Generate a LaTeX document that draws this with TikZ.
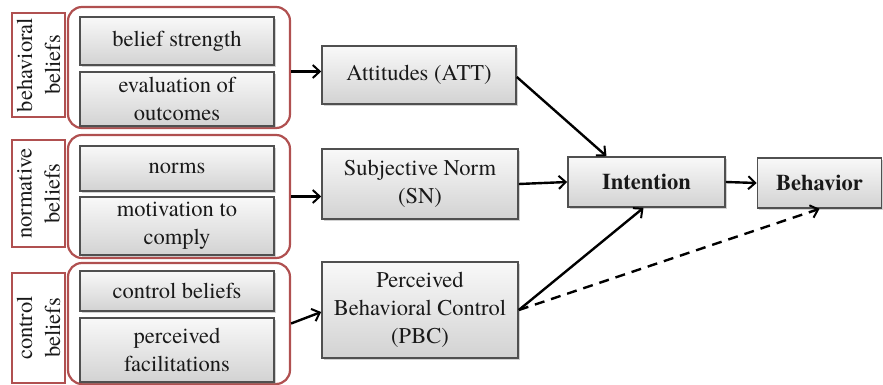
\documentclass[tikz,border=0pt]{standalone}
\usepackage{fontspec}
\setmainfont{texgyretermes}[Extension=.otf, UprightFont=*-regular, BoldFont=*-bold,
  ItalicFont=*-italic, BoldItalicFont=*-bolditalic]
\usetikzlibrary{arrows.meta,shadows,calc}
\definecolor{grpred}{RGB}{176,80,80}
\definecolor{boxline}{RGB}{80,80,80}
\definecolor{inktext}{RGB}{25,25,25}
\begin{document}
\begin{tikzpicture}[x=1pt,y=-1pt,
  txt/.style={font=\fontsize{22.5}{28}\selectfont, text=inktext, align=center},
  box/.style={txt, draw=boxline, line width=1.6pt, top color=gray!5, bottom color=gray!35,
    drop shadow={shadow xshift=1.8pt, shadow yshift=-1.8pt, opacity=0.35}, inner sep=2pt},
  grp/.style={draw=grpred, line width=2.2pt, rounded corners=14pt, inner sep=0pt},
  tag/.style={txt, draw=grpred, line width=2.2pt, rotate=90, inner sep=1pt},
  link/.style={line width=2.4pt, -{Straight Barb[length=7pt,width=13pt,line width=2pt]}},
]
\useasboundingbox[fill=white] (0,0) rectangle (883,385);

% belief groups (outer rounded frames)
\node[grp, minimum width=222pt, minimum height=121pt] (g1) at (179,67.5) {};
\node[grp, minimum width=222pt, minimum height=123pt] (g2) at (179,196.5) {};
\node[grp, minimum width=222pt, minimum height=121pt] (g3) at (179,323.5) {};

% side tags
\node[tag, minimum width=104pt, minimum height=53pt] (l1) at (38.5,65) {behavioral\\beliefs};
\node[tag, minimum width=107pt, minimum height=53pt] (l2) at (38.5,193.5) {normative\\beliefs};
\node[tag, minimum width=110pt, minimum height=53pt] (l3) at (38.5,328) {control\\beliefs};

% belief components
\node[box, minimum width=194pt, minimum height=48pt] (bs)  at (177,41)  {belief strength};
\node[box, minimum width=194pt, minimum height=54pt] (eo)  at (177,99)  {evaluation of\\outcomes};
\node[box, minimum width=194pt, minimum height=45pt] (nm)  at (177,168.5) {norms};
\node[box, minimum width=194pt, minimum height=58pt] (mc)  at (177,226) {motivation to\\comply};
\node[box, minimum width=194pt, minimum height=40pt] (cb)  at (177,291) {control beliefs};
\node[box, minimum width=194pt, minimum height=64pt] (pf)  at (177,350) {perceived\\facilitations};

% constructs
\node[box, minimum width=194pt, minimum height=58pt] (att) at (419,75)  {Attitudes (ATT)};
\node[box, minimum width=196pt, minimum height=70pt] (sn)  at (420,184) {Subjective Norm\\(SN)};
\node[box, minimum width=196pt, minimum height=96pt] (pbc) at (420,310) {Perceived\\Behavioral Control\\(PBC)};
\node[box, minimum width=157pt, minimum height=50pt, font=\fontsize{22.5}{28}\selectfont\bfseries] (int) at (646.5,182) {Intention};
\node[box, minimum width=124pt, minimum height=50pt, font=\fontsize{22.5}{28}\selectfont\bfseries] (beh) at (819.5,183) {Behavior};

% connectors
\draw[link] ([yshift=-4pt]g1.east) -- ([yshift=-4pt]g1.east -| att.west);
\draw[link] (g2.east) -- (g2.east -| sn.west);
\draw[link] (g3.east) -- ([yshift=-2pt]pbc.west);
\draw[link] ([yshift=-2pt]att.east) -- ([xshift=-40pt]int.north);
\draw[link] (sn.east) -- (int.west);
\draw[link] (pbc.east) -- ([xshift=-3pt]int.south);
\draw[link] (int.east) -- (beh.west);
\draw[link, dashed, dash pattern=on 10pt off 7pt] (pbc.east) -- (beh.south);
\end{tikzpicture}
\end{document}
